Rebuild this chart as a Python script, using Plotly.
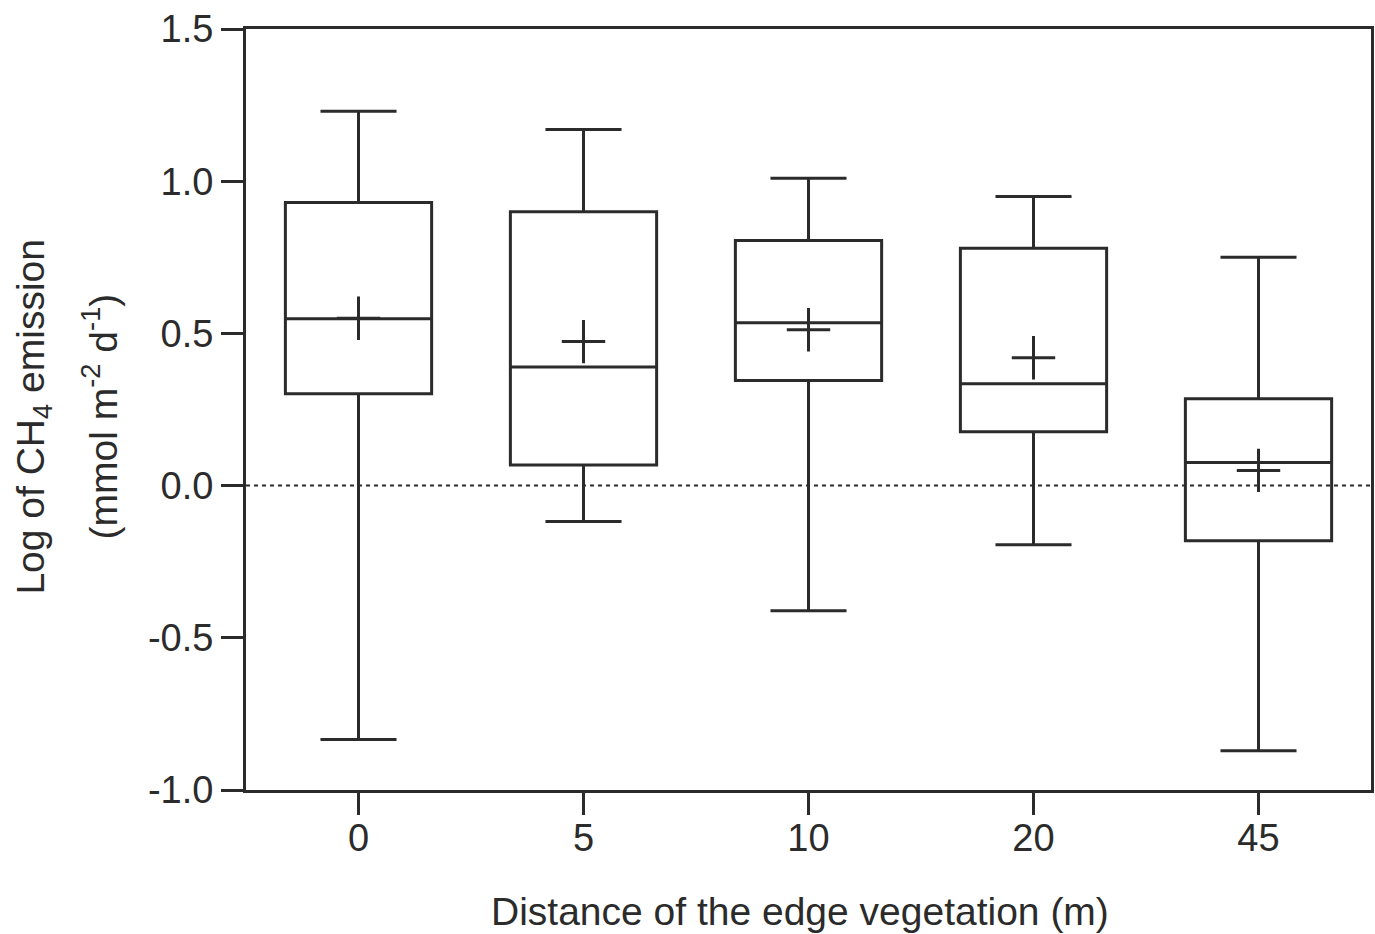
import plotly.graph_objects as go

categories = ["0", "5", "10", "20", "45"]
upper_whisker = [1.23, 1.17, 1.01, 0.95, 0.75]
q3_vals = [0.93, 0.90, 0.805, 0.78, 0.285]
median_vals = [0.548, 0.39, 0.535, 0.335, 0.076]
q1_vals = [0.302, 0.068, 0.345, 0.177, -0.181]
lower_whisker = [-0.834, -0.118, -0.411, -0.194, -0.871]
mean_vals = [0.55, 0.473, 0.512, 0.42, 0.05]

INK = "#2b2b2b"
FONT = "Liberation Sans, Arial, sans-serif"

L, R, T, B = 246, 1374, 29, 790
W, H = 1375, 934

def px_x(p):
    return (p - L) / (R - L)

def px_y(p):
    return (B - p) / (B - T)

fig = go.Figure()
fig.add_trace(go.Box(
    x=categories,
    q1=q1_vals, median=median_vals, q3=q3_vals,
    lowerfence=lower_whisker, upperfence=upper_whisker,
    fillcolor="rgba(0,0,0,0)",
    line=dict(color=INK, width=3),
    whiskerwidth=0.52,
    width=0.65,
    boxpoints=False,
    showlegend=False,
))
fig.add_trace(go.Scatter(
    x=categories, y=mean_vals, mode="markers",
    marker=dict(symbol="cross-thin", size=31, line=dict(color=INK, width=3), color=INK),
    showlegend=False,
))
fig.add_hline(y=0, line=dict(color=INK, width=2, dash="4px,4px"))

fig.add_annotation(text="Distance of the edge vegetation (m)", xref="paper", yref="paper",
                   x=px_x(801), y=px_y(912), xanchor="center", yanchor="middle",
                   showarrow=False, font=dict(size=39, color=INK, family=FONT))
fig.add_annotation(text="Log of CH<sub>4</sub> emission", xref="paper", yref="paper",
                   x=px_x(32), y=px_y(417), xanchor="center", yanchor="middle", textangle=-90,
                   showarrow=False, font=dict(size=39, color=INK, family=FONT))
fig.add_annotation(text="(mmol m<sup>-2</sup> d<sup>-1</sup>)", xref="paper", yref="paper",
                   x=px_x(99), y=px_y(416), xanchor="center", yanchor="middle", textangle=-90,
                   showarrow=False, font=dict(size=39, color=INK, family=FONT))

fig.update_layout(
    width=W, height=H,
    margin=dict(l=L, r=W - R, t=T, b=H - B),
    plot_bgcolor="white", paper_bgcolor="white",
    font=dict(family=FONT, color=INK, size=38),
    xaxis=dict(
        type="category", range=[-0.5, 4.5],
        showline=True, linecolor=INK, linewidth=3, mirror=True,
        ticks="outside", ticklen=22, tickwidth=3, tickcolor=INK,
        showgrid=False, zeroline=False,
        ticklabelstandoff=-10,
        tickfont=dict(size=38, color=INK, family=FONT),
    ),
    yaxis=dict(
        range=[-1.0, 1.5], tickvals=[-1.0, -0.5, 0.0, 0.5, 1.0, 1.5],
        ticktext=["-1.0", "-0.5", "0.0", "0.5", "1.0", "1.5"],
        showline=True, linecolor=INK, linewidth=3, mirror=True,
        ticks="outside", ticklen=22, tickwidth=3, tickcolor=INK,
        showgrid=False, zeroline=False,
        tickfont=dict(size=38, color=INK, family=FONT),
    ),
)

fig.write_html("out.html")
